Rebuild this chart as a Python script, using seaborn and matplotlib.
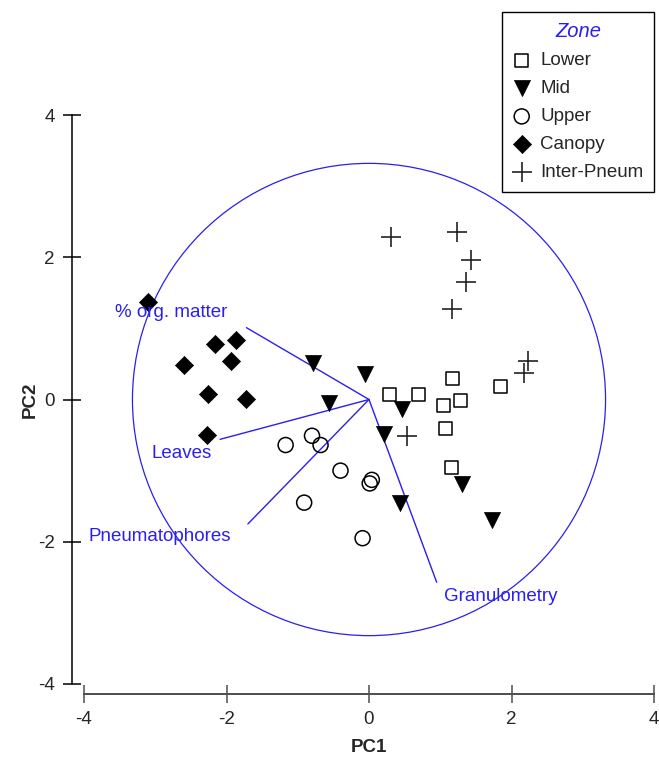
import numpy as np
import pandas as pd
import matplotlib
matplotlib.use("Agg")
import matplotlib.pyplot as plt
from matplotlib.patches import Circle
import seaborn as sns

# ---- data ----
zones = ["Lower", "Mid", "Upper", "Canopy", "Inter-Pneum"]

lower_x = [0.29, 0.70, 1.17, 1.05, 1.28, 1.08, 1.16, 1.85]
lower_y = [0.07, 0.07, 0.29, -0.08, -0.01, -0.41, -0.95, 0.18]

mid_x = [-0.78, -0.05, -0.56, 0.47, 0.21, 0.44, 1.30, 1.72]
mid_y = [0.51, 0.36, -0.05, -0.13, -0.48, -1.46, -1.19, -1.69]

upper_x = [-1.17, -0.80, -0.68, -0.40, 0.04, 0.01, -0.91, -0.09]
upper_y = [-0.64, -0.51, -0.64, -1.00, -1.13, -1.18, -1.45, -1.95]

canopy_x = [-3.10, -2.16, -1.87, -2.59, -1.94, -2.26, -1.73, -2.28]
canopy_y = [1.37, 0.78, 0.83, 0.49, 0.54, 0.08, 0.01, -0.50]

inter_x = [0.31, 1.24, 1.43, 1.36, 1.16, 2.23, 2.18, 0.54]
inter_y = [2.28, 2.36, 1.96, 1.65, 1.27, 0.54, 0.37, -0.51]

variables = ["% org. matter", "Leaves", "Pneumatophores", "Granulometry"]
load_x = [-1.72, -2.09, -1.70, 0.95]
load_y = [1.01, -0.56, -1.75, -2.57]
label_x = [-2.78, -2.63, -2.94, 1.85]
label_y = [1.22, -0.76, -1.93, -2.77]

circle_radius = 3.32
ticks = [-4, -2, 0, 2, 4]

# ---- build table ----
frames = []
for z, xs, ys in zip(zones,
                     [lower_x, mid_x, upper_x, canopy_x, inter_x],
                     [lower_y, mid_y, upper_y, canopy_y, inter_y]):
    frames.append(pd.DataFrame({"PC1": xs, "PC2": ys, "Zone": z}))
df = pd.concat(frames, ignore_index=True)

sns.set_style("white")
plt.rcParams["font.family"] = ["Liberation Sans", "DejaVu Sans"]

BLUE = "#2a1ff0"
FS = 13.5

fig = plt.figure(figsize=(6.59, 7.58), dpi=100)
ax = fig.add_axes([84 / 659, (758 - 684) / 758, 570 / 659, 569 / 758])

styles = {
    "Lower": dict(marker="s", s=88, facecolor="none", edgecolor="black", linewidth=1.1),
    "Mid": dict(marker="v", s=135, facecolor="black", edgecolor="black", linewidth=0.5),
    "Upper": dict(marker="o", s=117, facecolor="none", edgecolor="black", linewidth=1.1),
    "Canopy": dict(marker="D", s=85, facecolor="black", edgecolor="black", linewidth=0.5),
    "Inter-Pneum": dict(marker="+", s=190, color="#222222", linewidth=1.2),
}

for z in zones:
    sub = df[df["Zone"] == z]
    sns.scatterplot(data=sub, x="PC1", y="PC2", ax=ax, label=z, legend=False,
                    zorder=3, **styles[z])

# correlation circle
ax.add_patch(Circle((0, 0), circle_radius, fill=False, edgecolor=BLUE, linewidth=0.9, zorder=2))

# loading vectors
for name, lx, ly, tx, ty in zip(variables, load_x, load_y, label_x, label_y):
    ax.plot([0, lx], [0, ly], color=BLUE, linewidth=1.0, zorder=2)
    ax.text(tx, ty, name, color=BLUE, fontsize=FS, ha="center", va="center", zorder=4)

ax.set_xlim(-4, 4)
ax.set_ylim(-4, 4)
ax.set_xticks(ticks)
ax.set_yticks(ticks)
ax.set_xticklabels([str(t) for t in ticks])
ax.set_yticklabels([str(t) for t in ticks])

for s in ["top", "right"]:
    ax.spines[s].set_visible(False)
ax.spines["left"].set_position(("outward", 8.6))
ax.spines["bottom"].set_position(("outward", 7.2))
ax.spines["left"].set_color("black")
ax.spines["bottom"].set_color("#4d4d4d")
ax.spines["left"].set_linewidth(1.1)
ax.spines["bottom"].set_linewidth(1.4)

ax.tick_params(axis="x", direction="inout", length=13, width=1.1, color="#4d4d4d",
               labelsize=FS, pad=6, bottom=True)
ax.tick_params(axis="y", direction="inout", length=13, width=1.1, color="black",
               labelsize=FS, pad=6, left=True)

ax.set_xlabel("PC1", fontsize=FS, fontweight="bold", labelpad=8)
ax.set_ylabel("PC2", fontsize=FS, fontweight="bold", labelpad=-0.5)

handles, labels = ax.get_legend_handles_labels()
leg = fig.legend(handles, labels, title="Zone", loc="upper left",
                 bbox_to_anchor=(502 / 659, 1 - 12 / 758), bbox_transform=fig.transFigure,
                 fontsize=FS, title_fontsize=14.5, frameon=True, fancybox=False,
                 edgecolor="black", framealpha=1, borderpad=0.55, labelspacing=0.58,
                 handlelength=1.0, handletextpad=0.5, borderaxespad=0)
leg.get_frame().set_linewidth(1.0)
leg.get_title().set_color(BLUE)
leg.get_title().set_fontstyle("italic")

fig.savefig("out.png", dpi=100)
